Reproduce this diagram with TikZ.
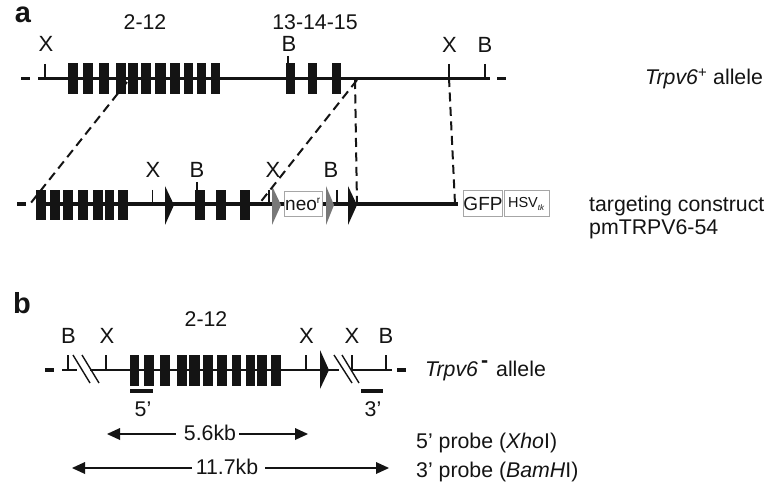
\documentclass[tikz,border=0pt]{standalone}
\usepackage{fontspec}
\setmainfont{Liberation Sans}
\definecolor{ink}{gray}{0.08}
\definecolor{midgray}{gray}{0.47}
\definecolor{boxgray}{gray}{0.65}
\tikzset{
  lab/.style={inner sep=0pt,anchor=base,text=ink,font=\fontsize{21.3}{25}\selectfont},
  site/.style={lab,font=\fontsize{22}{25}\selectfont},
  leftlab/.style={lab,anchor=base west},
  panel/.style={inner sep=0pt,anchor=base,text=ink,font=\bfseries\fontsize{29}{31}\selectfont},
  dna/.style={line width=3.2pt,draw=ink},
  tick/.style={line width=1.2pt,draw=ink},
  tickb/.style={line width=2pt,draw=ink},
  ddash/.style={line width=2pt,draw=ink,dash pattern=on 9pt off 5.5pt},
  endd/.style={line width=3.2pt,draw=ink},
  slash/.style={line width=1.4pt,draw=ink},
  probe/.style={line width=3.8pt,draw=ink},
  cbox/.style={draw=boxgray,line width=1pt,fill=white,inner sep=0pt,text=ink},
  dim/.style={line width=1.8pt,draw=ink},
  dimtip/.style={fill=ink}
}
\newcommand{\exon}[4]{\fill[ink] (#1,#3) rectangle (#2,#4);}
\begin{document}
\begin{tikzpicture}[x=1pt,y=-1pt]
\useasboundingbox (0,0) rectangle (780,500);
\fill[white] (0,0) rectangle (780,500);

% ---------- panel a, top row
\node[panel] (pa) at (23,23) {a};
\node[lab] (t212) at (145,30) {2-12};
\node[lab] (t1315) at (315,30) {13-14-15};
\coordinate (r1a) at (38,78.5);
\coordinate (r1b) at (490,78.5);
\draw[dna] (r1a) -- (r1b);
\draw[endd] (21,78.5) -- (30,78.5) (497,78.5) -- (506,78.5);
\foreach \a/\b in {68/78,83/93,99/109,116/126,128/138,141/151,155/166,170/180,184/193,197/206,211/220,286/295,308/317,332/341}
  {\exon{\a}{\b}{63}{94}}
\node[site] (x1) at (46,52) {X};
\node[site] (b1) at (289,52) {B};
\node[site] (x2) at (449.5,53) {X};
\node[site] (b2) at (485,53) {B};
\draw[tick] (45,64) -- (45,78);
\draw[tickb] (288,56) -- (288,63);
\draw[tick] (449,64) -- (449,78);
\draw[tick] (485,64) -- (485,78);
\node[leftlab] (l1) at (645,85) {\textit{Trpv6}\textsuperscript{+} allele};

% ---------- panel a, construct row
\coordinate (r2a) at (36,204);
\coordinate (r2b) at (458,204);
\draw[dna] (r2a) -- (r2b);
\draw[endd] (17,204) -- (26,204);
\foreach \a/\b in {36/46,50/60,63/73,78/88,93/103,105/114,118/128,195/205,216/226,240/250}
  {\exon{\a}{\b}{190}{220}}
\node[site] (x3) at (153,178) {X};
\node[site] (b3) at (197,178) {B};
\node[site] (x4) at (273,178) {X};
\node[site] (b4) at (331,178) {B};
\draw[tick] (152.5,190) -- (152.5,204);
\draw[tickb] (196.5,182) -- (196.5,190);
\draw[tick] (269,190) -- (269,204);
\draw[tick] (337,190) -- (337,204);
\fill[ink] (165,186) -- (174,205) -- (165,225) -- cycle;
\fill[midgray] (272,186) -- (281,205) -- (272,225) -- cycle;
\node[cbox,minimum width=38pt,minimum height=25pt,font=\fontsize{19}{22}\selectfont] (neo) at (303,204.5) {neo\textsuperscript{\fontsize{10}{10}\selectfont r}};
\fill[midgray] (326,186) -- (334,205) -- (326,225) -- cycle;
\fill[ink] (348,186) -- (357,205) -- (348,225) -- cycle;
\node[cbox,minimum width=38pt,minimum height=26pt,font=\fontsize{19}{22}\selectfont] (gfp) at (483,204) {GFP};
\node[cbox,minimum width=45pt,minimum height=26pt,font=\fontsize{14.5}{18}\selectfont] (hsv) at (526.5,204) {HSV\textsubscript{\fontsize{8}{8}\selectfont\textit{tk}}};
\node[leftlab] (l2) at (589,212) {targeting construct};
\node[leftlab] (l3) at (589,235) {pmTRPV6-54};

% ---------- homology dashes
\coordinate (d1a) at (127,82);
\coordinate (d1b) at (30,204);
\coordinate (d2a) at (357,80);
\coordinate (d2b) at (259,204);
\coordinate (d3a) at (355,80);
\coordinate (d3b) at (357,204);
\coordinate (d4a) at (449,78);
\coordinate (d4b) at (455,204);
\draw[ddash] (d1a) -- (d1b);
\draw[ddash] (d2a) -- (d2b);
\draw[ddash] (d3a) -- (d3b);
\draw[ddash] (d4a) -- (d4b);

% ---------- panel b
\node[panel] (pb) at (22,313) {b};
\node[lab] (t212b) at (206,326) {2-12};
\draw[dna,line width=2.8pt] (62,370) -- (77,370) (90,370) -- (339,370) (352,370) -- (392,370);
\draw[endd] (45,370) -- (54,370) (397,370) -- (406,370);
\foreach \a/\b in {130/139,144/154,160/170,177/187,189/200,203/213,217/227,232/241,246/255,257/267,271/281}
  {\exon{\a}{\b}{355}{386}}
\node[site] (x5) at (107,343) {X};
\node[site] (x6) at (306.5,343) {X};
\node[site] (x7) at (352,343) {X};
\node[site] (b5) at (68.5,343) {B};
\node[site] (b6) at (386,343) {B};
\foreach \x in {68,106,306,352,386} {\draw[tick] (\x,355) -- (\x,370);}
\fill[ink] (320,350) -- (329,370) -- (320,389) -- cycle;
\draw[slash] (73,355) -- (90,383) (82,355) -- (99,383);
\draw[slash] (334,355) -- (352,383) (342,355) -- (359,383);
\draw[probe] (130,391) -- (153,391);
\draw[probe] (361,391) -- (383,391);
\node[lab] (p5) at (143,416) {5’};
\node[lab] (p3) at (373,416) {3’};

% ---------- size bars
\node[lab] (k56) at (210,440) {5.6kb};
\node[lab] (k117) at (227,474) {11.7kb};
\coordinate (a1) at (107,434);
\coordinate (a2) at (308,434);
\coordinate (a3) at (72,468);
\coordinate (a4) at (389,468);
\draw[dim] (119,434) -- (176,434) (239,434) -- (297,434);
\fill[dimtip] (a1) -- (120,428) -- (120,440) -- cycle;
\fill[dimtip] (a2) -- (295,428) -- (295,440) -- cycle;
\draw[dim] (84,468) -- (192,468) (265,468) -- (377,468);
\fill[dimtip] (a3) -- (85,462) -- (85,474) -- cycle;
\fill[dimtip] (a4) -- (376,462) -- (376,474) -- cycle;

\node[leftlab] (l4) at (425,376) {\textit{Trpv6}\hspace{3pt}\raisebox{9pt}{\textbf{-}}\hspace{8pt}allele};
\node[leftlab] (l5) at (416,448) {5’ probe (\textit{Xho}I)};
\node[leftlab] (l6) at (416,477) {3’ probe (\textit{BamH}I)};
\end{tikzpicture}
\end{document}
